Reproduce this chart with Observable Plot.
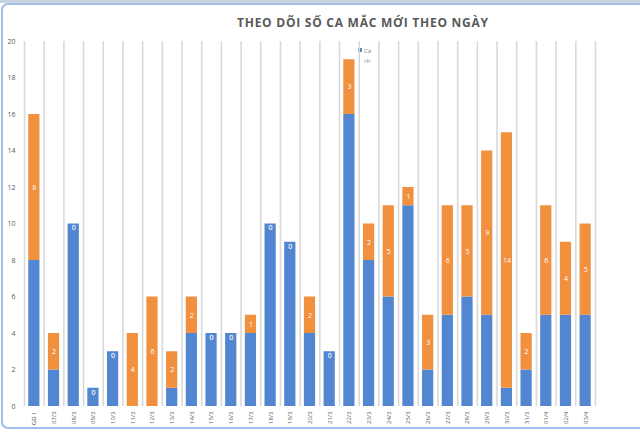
<!DOCTYPE html>
<html><head><meta charset="utf-8">
<script src="https://cdn.jsdelivr.net/npm/d3@7"></script>
<script src="https://cdn.jsdelivr.net/npm/@observablehq/plot@0.6"></script>
<style>
body{margin:0;background:#fff;font-family:"Open Sans",sans-serif;}
#wrap{position:relative;width:640px;height:432px;overflow:hidden;background:#fff;}
#wrap svg{position:absolute;left:0;top:0;}
#frame{position:absolute;left:1px;top:3px;width:720px;height:426px;border:2px solid #a3bfe9;border-right:none;border-radius:7px 0 0 7px;box-sizing:border-box;pointer-events:none;}
#topbar{position:absolute;left:0;top:0;width:640px;height:3px;background:#c9d3e0;}
#title{position:absolute;top:14px;left:237px;font-size:12px;font-weight:700;letter-spacing:0.75px;color:#595959;white-space:nowrap;}
#legend{position:absolute;left:358px;top:46px;font-size:6px;color:#7f7f7f;line-height:10px;}
#legend .sw{display:inline-block;width:4px;height:4px;margin-right:2px;vertical-align:1px;}
</style></head>
<body>
<div id="wrap">
  <div id="topbar"></div>
  <div id="title">THEO DÕI SỐ CA MẮC MỚI THEO NGÀY</div>
  <div id="legend"><span class="sw" id="sw"></span>Cá<br><span style="margin-left:6px">ch</span></div>
  <div id="frame"></div>
</div>
<script>
const dates = ["GĐ 1","07/3","08/3","09/3","10/3","11/3","12/3","13/3","14/3","15/3","16/3","17/3","18/3","19/3","20/3","21/3","22/3","23/3","24/3","25/3","26/3","27/3","28/3","29/3","30/3","31/3","01/4","02/4","03/4"];
const blueVals   = [8,2,10,1,3,0,0,1,4,4,4,4,10,9,4,3,16,8,6,11,2,5,6,5,1,2,5,5,5];
const orangeVals = [8,2,0,0,0,4,6,2,2,0,0,1,0,0,2,0,3,2,5,1,3,6,5,9,14,2,6,4,5];
const seriesNames = ["Cách ly","Cộng đồng"];
const seriesColors = ["#5386d1","#f1903f"];
const yTicks = [0,2,4,6,8,10,12,14,16,18,20];

document.getElementById("sw").style.background = seriesColors[0];

const long = [];
dates.forEach((d,i)=>{
  long.push({date:d, series:seriesNames[0], value:blueVals[i]});
  long.push({date:d, series:seriesNames[1], value:orangeVals[i]});
});
const labOrange = dates.map((d,i)=>({date:d, y:blueVals[i]+orangeVals[i]/2, t:orangeVals[i]})).filter(r=>r.t>0);
const labZero = dates.map((d,i)=>({date:d, y:blueVals[i], t:orangeVals[i]})).filter(r=>r.t===0);

const W=640, H=432, mL=24, mR=45, mT=41, mB=26;
const step = (W-mL-mR)/dates.length;

const chart = Plot.plot({
  width:W, height:H, marginLeft:mL, marginRight:mR, marginTop:mT, marginBottom:mB,
  style:{fontFamily:"Open Sans, sans-serif", fontSize:"7px", color:"#595959", background:"transparent"},
  x:{domain:dates, paddingInner:0.43, paddingOuter:0.215, round:false, label:null, axis:null},
  y:{domain:[0,20], label:null, axis:null},
  color:{domain:seriesNames, range:seriesColors},
  marks:[
    Plot.ruleX(dates,{x:d=>d, dx:-step/2, stroke:"#d9d9d9", strokeWidth:1.6}),
    Plot.ruleX([dates[dates.length-1]],{x:d=>d, dx:step/2, stroke:"#d9d9d9", strokeWidth:1.6}),
    Plot.barY(long,{x:"date", y:"value", fill:"series", order:seriesNames}),
    Plot.text(labOrange,{x:"date", y:"y", text:"t", fill:"white", fontSize:7}),
    Plot.text(labZero,{x:"date", y:"y", text:"t", fill:"white", fontSize:7, dy:4, stroke:"#7fa4dc", strokeWidth:0.6, paintOrder:"stroke"}),
    Plot.axisY({ticks:yTicks, tickSize:0, tickPadding:9, fontSize:7, fill:"#595959"}),
    Plot.axisX({tickRotate:-90, tickSize:0, tickPadding:5, fontSize:6, fill:"#595959"})
  ]
});
document.getElementById("wrap").insertBefore(chart, document.getElementById("frame"));
</script>
</body></html>
